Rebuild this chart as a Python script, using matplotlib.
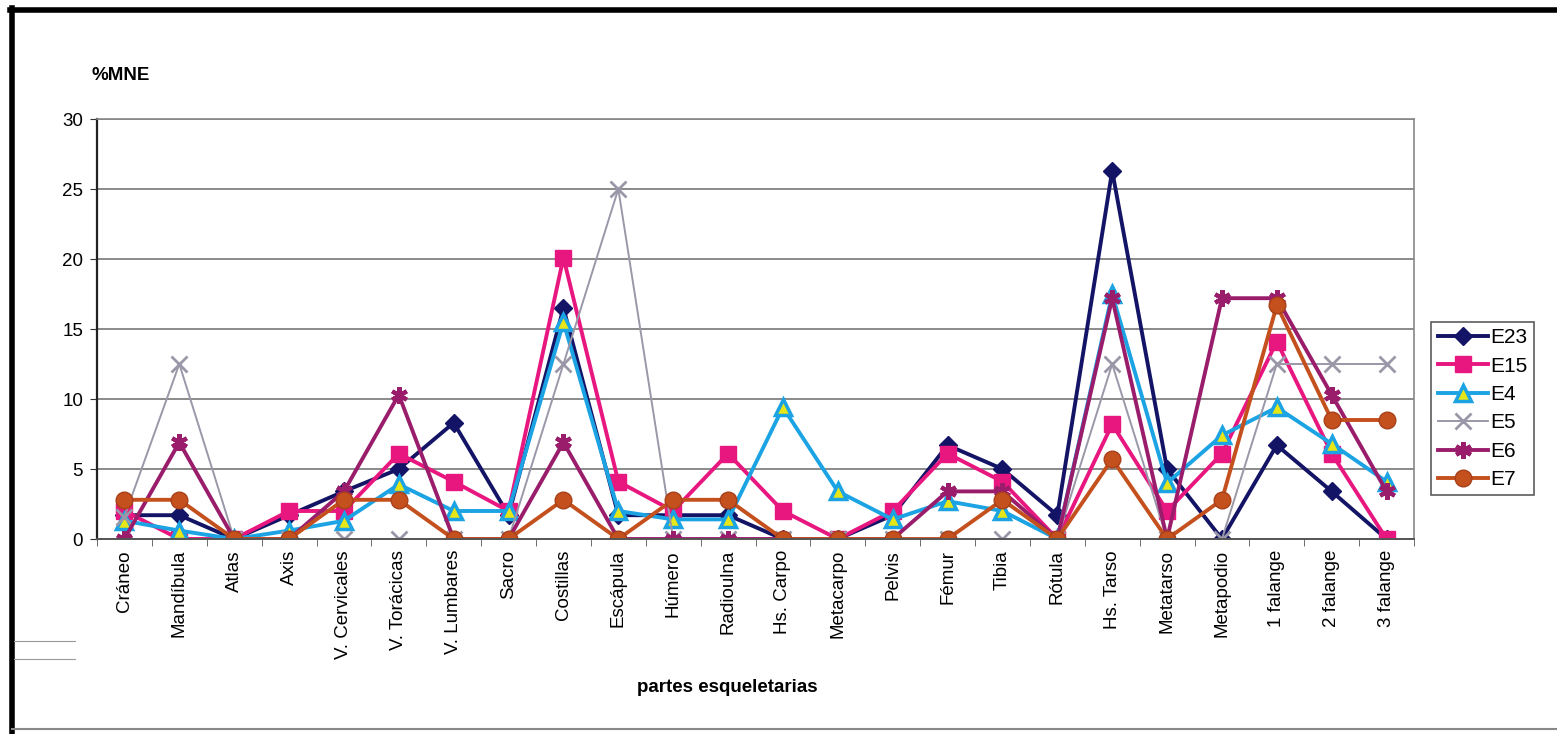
import numpy as np
import matplotlib
matplotlib.use("Agg")
import matplotlib.pyplot as plt
from matplotlib.lines import Line2D

plt.rcParams['font.family'] = ['Liberation Sans', 'DejaVu Sans']

partes = ["Cráneo", "Mandíbula", "Atlas", "Axis", "V. Cervicales", "V. Torácicas",
          "V. Lumbares", "Sacro", "Costillas", "Escápula", "Húmero", "Radioulna",
          "Hs. Carpo", "Metacarpo", "Pelvis", "Fémur", "Tibia", "Rótula",
          "Hs. Tarso", "Metatarso", "Metapodio", "1 falange", "2 falange", "3 falange"]

e23 = [1.7, 1.7, 0, 1.7, 3.4, 5.0, 8.3, 1.7, 16.5, 1.7, 1.7, 1.7,
       0, 0, 1.7, 6.7, 5.0, 1.7, 26.3, 5.0, 0, 6.7, 3.4, 0]
e15 = [2.0, 0, 0, 2.0, 2.0, 6.1, 4.1, 2.0, 20.1, 4.1, 2.0, 6.1,
       2.0, 0, 2.0, 6.1, 4.1, 0, 8.2, 2.0, 6.1, 14.1, 6.1, 0]
e4 = [1.3, 0.6, 0, 0.6, 1.3, 3.9, 2.0, 2.0, 15.5, 2.0, 1.4, 1.4,
      9.4, 3.4, 1.4, 2.7, 2.0, 0, 17.5, 4.0, 7.4, 9.4, 6.8, 4.1]
e5 = [1.6, 12.5, 0, 0, 0, 0, 0, 0, 12.5, 25.0, 0, 0,
      0, 0, 0, 0, 0, 0, 12.5, 0, 0, 12.5, 12.5, 12.5]
e6 = [0, 6.9, 0, 0, 3.4, 10.3, 0, 0, 6.9, 0, 0, 0,
      0, 0, 0, 3.4, 3.4, 0, 17.2, 0, 17.2, 17.2, 10.3, 3.4]
e7 = [2.8, 2.8, 0, 0, 2.8, 2.8, 0, 0, 2.8, 0, 2.8, 2.8,
      0, 0, 0, 0, 2.8, 0, 5.7, 0, 2.8, 16.7, 8.5, 8.5]

series = [
    ("E23", e23, dict(color="#141466", marker="D", ms=9, mfc="#141466", mec="#141466", lw=2.8)),
    ("E15", e15, dict(color="#e8177f", marker="s", ms=11, mfc="#e8177f", mec="#e8177f", lw=2.8)),
    ("E4", e4, dict(color="#1ba3e3", marker="^", ms=11, mfc="#e6e619", mec="#1ba3e3", mew=2.5, lw=2.8)),
    ("E5", e5, dict(color="#9a98a8", marker="x", ms=11, mfc="#9a98a8", mec="#9a98a8", mew=2, lw=1.4)),
    ("E6", e6, dict(color="#9a1d6c", marker=(6, 2, 0), ms=12, mfc="#9a1d6c", mec="#9a1d6c", mew=3, lw=2.8)),
    ("E7", e7, dict(color="#c4501e", marker="o", ms=12, mfc="#c4501e", mec="#a8401a", lw=2.8)),
]

fig = plt.figure(figsize=(15.57, 7.34), dpi=100)
W, H = 1557, 734
ax = fig.add_axes([97 / W, 1 - 539 / H, (1414 - 97) / W, (539 - 119) / H])

x = np.arange(len(partes))
for name, vals, st in series:
    ax.plot(x, vals, label=name, **st)

ax.set_xlim(-0.5, len(partes) - 0.5)
ax.set_ylim(0, 30)
ax.set_yticks(np.arange(0, 31, 5))
ax.yaxis.grid(True, color="#777777", lw=1.2)
ax.set_axisbelow(True)
ax.set_xticks(x)
ax.set_xticklabels(partes, rotation=90, fontsize=13.5)
ax.set_xticks(np.arange(-0.5, len(partes), 1), minor=True)
ax.tick_params(axis="x", which="major", length=0, pad=8)
ax.tick_params(axis="x", which="minor", length=5, color="#555555", direction="out")
ax.tick_params(axis="y", labelsize=13.5, length=5, color="#333333", pad=5)

for s in ["top", "right"]:
    ax.spines[s].set_color("#888888")
    ax.spines[s].set_linewidth(1.2)
ax.spines["left"].set_color("#222222")
ax.spines["left"].set_linewidth(1.6)
ax.spines["bottom"].set_color("#555555")
ax.spines["bottom"].set_linewidth(1.4)

fig.text(92 / W, 1 - 76 / H, "%MNE", fontsize=13.5, fontweight="bold", va="center")
fig.text(727 / W, 1 - 688 / H, "partes esqueletarias", fontsize=13.5,
         fontweight="bold", ha="center", va="center")

leg = ax.legend(loc="center left", bbox_to_anchor=(1.01, 0.31), fontsize=15,
                frameon=True, fancybox=False, edgecolor="#333333",
                handlelength=2.4, borderpad=0.3, labelspacing=0.45, handletextpad=0.15,
                borderaxespad=0.2)
leg.get_frame().set_linewidth(1.2)

# outer frame of the chart
fig.add_artist(Line2D([12 / W, 12 / W], [0, 1 - 8 / H], color="black", lw=4))
fig.add_artist(Line2D([10 / W, 1], [1 - 10 / H, 1 - 10 / H], color="black", lw=4))
fig.add_artist(Line2D([12 / W, 1], [1 - 729 / H, 1 - 729 / H], color="#888888", lw=1.5))
fig.add_artist(Line2D([14 / W, 75 / W], [1 - 641 / H, 1 - 641 / H], color="#999999", lw=0.8))
fig.add_artist(Line2D([14 / W, 75 / W], [1 - 659 / H, 1 - 659 / H], color="#999999", lw=0.8))

fig.savefig("out.png", dpi=100)
